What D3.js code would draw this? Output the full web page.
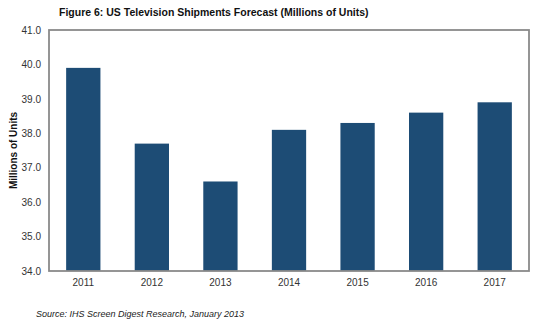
<!DOCTYPE html>
<html>
<head>
<meta charset="utf-8">
<script src="https://cdn.jsdelivr.net/npm/d3@7"></script>
<style>
  body { margin: 0; background: #fff; }
  svg text { font-family: "Liberation Sans", Arial, sans-serif; }
</style>
</head>
<body>
<script>
// Shipment data (millions of units)
var years = ["2011", "2012", "2013", "2014", "2015", "2016", "2017"];
var shipments = [39.9, 37.7, 36.6, 38.1, 38.3, 38.6, 38.9];
var yTicks = [34, 35, 36, 37, 38, 39, 40, 41];

var width = 550,
    height = 328;

var margin = { top: 30, right: 21, bottom: 57, left: 49 };
var plotW = width - margin.left - margin.right,
    plotH = height - margin.top - margin.bottom;

var svg = d3.select("body").append("svg")
    .attr("width", width)
    .attr("height", height);

/*
 * Scales.
 */
var x = d3.scaleBand()
    .domain(years)
    .range([margin.left, margin.left + plotW])
    .paddingInner(0.5)
    .paddingOuter(0.25);

var y = d3.scaleLinear()
    .domain([34, 41])
    .range([margin.top + plotH, margin.top]);

/*
 * Title.
 */
svg.append("text")
    .attr("x", 59)
    .attr("y", 16)
    .style("font-size", "10.5px")
    .style("font-weight", "bold")
    .style("fill", "#111")
    .text("Figure 6: US Television Shipments Forecast (Millions of Units)");

/*
 * Bars.
 */
svg.selectAll(".bar")
    .data(shipments)
    .enter().append("rect")
    .attr("class", "bar")
    .attr("x", function(d, i) { return x(years[i]); })
    .attr("width", x.bandwidth())
    .attr("y", function(d) { return y(d); })
    .attr("height", function(d) { return y(34) - y(d); })
    .style("fill", "#1d4c75");

/*
 * Frame around the plot.
 */
svg.append("rect")
    .attr("x", margin.left)
    .attr("y", margin.top)
    .attr("width", plotW)
    .attr("height", plotH)
    .style("fill", "none")
    .style("stroke", "#8a8a8a")
    .style("stroke-width", 1.8);

/*
 * Y axis labels.
 */
var yAxis = d3.axisLeft(y)
    .tickValues(yTicks)
    .tickSize(0)
    .tickPadding(8)
    .tickFormat(d3.format(".1f"));

svg.append("g")
    .attr("transform", "translate(" + margin.left + ",0)")
    .call(yAxis)
    .call(function(g) { g.select(".domain").remove(); })
    .selectAll("text")
    .style("font-size", "10px")
    .style("fill", "#333")
    .style("font-family", "'Liberation Sans', Arial, sans-serif");

/*
 * X axis labels.
 */
var xAxis = d3.axisBottom(x)
    .tickSize(0)
    .tickPadding(8);

svg.append("g")
    .attr("transform", "translate(0," + (margin.top + plotH) + ")")
    .call(xAxis)
    .call(function(g) { g.select(".domain").remove(); })
    .selectAll("text")
    .style("font-size", "10px")
    .style("fill", "#333")
    .style("font-family", "'Liberation Sans', Arial, sans-serif");

/*
 * Y axis title.
 */
svg.append("text")
    .attr("transform", "translate(17," + (margin.top + plotH / 2) + ") rotate(-90)")
    .style("text-anchor", "middle")
    .style("font-size", "10px")
    .style("font-weight", "bold")
    .style("fill", "#111")
    .text("Millions of Units");

/*
 * Source note.
 */
svg.append("text")
    .attr("x", 36)
    .attr("y", 317)
    .style("font-size", "9px")
    .style("font-style", "italic")
    .style("fill", "#222")
    .text("Source: IHS Screen Digest Research, January 2013");
</script>
</body>
</html>
